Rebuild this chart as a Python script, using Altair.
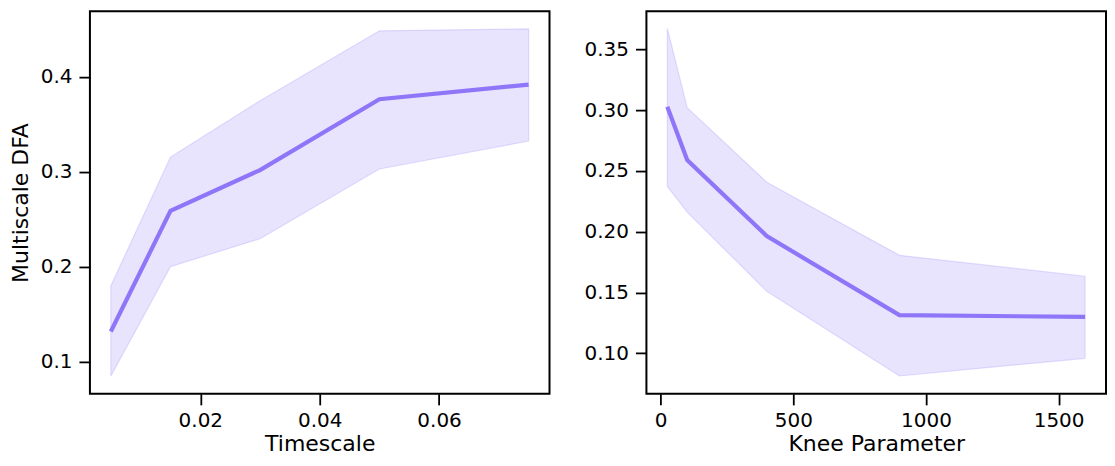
import altair as alt
import pandas as pd

# Left panel: Timescale
ts_x = [0.005, 0.015, 0.03, 0.05, 0.075]
ts_mean = [0.132, 0.259, 0.302, 0.3766, 0.392]
ts_low = [0.085, 0.2003, 0.2297, 0.3031, 0.3325]
ts_high = [0.180, 0.3157, 0.375, 0.4486, 0.4507]

# Right panel: Knee Parameter
kn_x = [25, 100, 400, 900, 1600]
kn_mean = [0.3027, 0.259, 0.1964, 0.1314, 0.130]
kn_low = [0.2372, 0.2161, 0.151, 0.0814, 0.0959]
kn_high = [0.3672, 0.302, 0.2407, 0.1806, 0.1634]

LINE = "#8F76F8"
FONT = "DejaVu Sans"

df1 = pd.DataFrame({"x": ts_x, "m": ts_mean, "lo": ts_low, "hi": ts_high})
df2 = pd.DataFrame({"x": kn_x, "m": kn_mean, "lo": kn_low, "hi": kn_high})

W, H = 460, 383


def panel(df, xdom, ydom, xticks, yticks, xtitle, ytitle, yfmt, xfmt):
    xenc = alt.X("x:Q", scale=alt.Scale(domain=xdom, nice=False, zero=False),
                 axis=alt.Axis(values=xticks, format=xfmt, title=xtitle))
    yaxis = alt.Axis(values=yticks, format=yfmt, title=ytitle) if ytitle else alt.Axis(values=yticks, format=yfmt, title=None)
    yscale = alt.Scale(domain=ydom, nice=False, zero=False)
    band = alt.Chart(df).mark_area(
        color=LINE, fillOpacity=0.2, stroke=LINE, strokeOpacity=0.22, strokeWidth=1.2
    ).encode(x=xenc, y=alt.Y("lo:Q", scale=yscale, axis=yaxis), y2="hi:Q")
    line = alt.Chart(df).mark_line(color=LINE, strokeWidth=4.2, strokeCap="butt").encode(
        x=alt.X("x:Q"), y=alt.Y("m:Q")
    )
    return (band + line).properties(width=W, height=H)


left = panel(df1, [0.0015, 0.0785], [0.0663, 0.4693], [0.02, 0.04, 0.06],
             [0.1, 0.2, 0.3, 0.4], "Timescale", "Multiscale DFA", ".1f", ".2f")
right = panel(df2, [-53.75, 1678.75], [0.0667, 0.3813], [0, 500, 1000, 1500],
              [0.10, 0.15, 0.20, 0.25, 0.30, 0.35], "Knee Parameter", None, ".2f", "d")

chart = alt.hconcat(left, right, spacing=32).properties(
    padding={"left": 0, "top": 2, "right": 0, "bottom": 2}
).configure_view(
    stroke="black", strokeWidth=2
).configure_axis(
    grid=False, domain=False, ticks=True, tickSize=11, tickWidth=1.8, tickColor="black",
    labelFont=FONT, labelFontSize=20, labelColor="black", labelPadding=7,
    titleFont=FONT, titleFontSize=22, titleFontWeight="normal", titleColor="black",
    titlePadding=8
).configure_axisX(
    titlePadding=3, labelPadding=6
)

chart.save("out.html", embed_options={"renderer": "svg", "actions": False})
